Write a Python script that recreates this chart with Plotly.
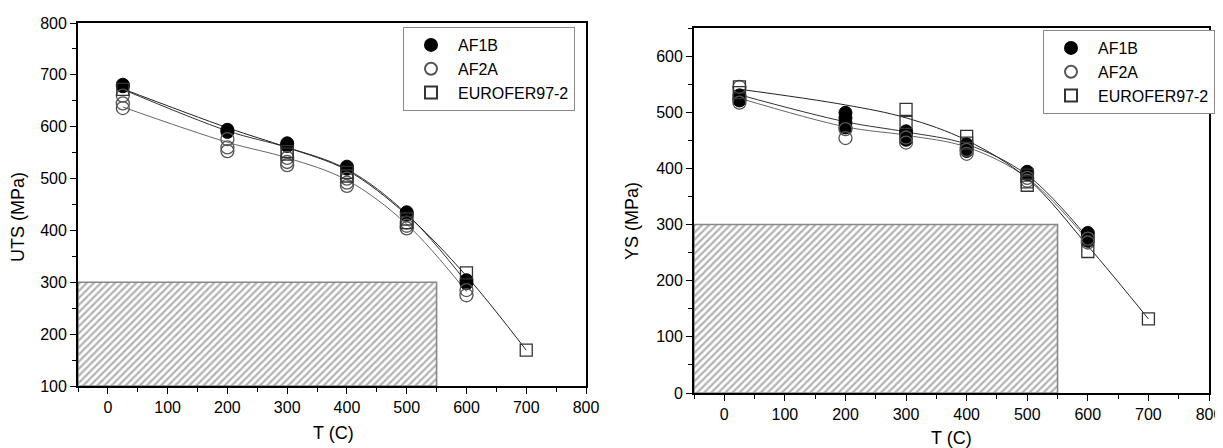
import plotly.graph_objects as go

# ---------------- data ----------------
# Left panel: UTS (MPa) vs T (C)
uts_af1b_t = [25, 25, 200, 200, 300, 300, 400, 400, 500, 500, 600, 600]
uts_af1b = [681, 678, 594, 590, 568, 563, 523, 519, 435, 430, 304, 298]
uts_af2a_t = [25, 25, 25, 200, 200, 200, 300, 300, 300, 400, 400, 400, 500, 500, 500, 600, 600]
uts_af2a = [660, 645, 636, 576, 560, 553, 540, 532, 526, 500, 492, 486, 415, 409, 404, 285, 275]
uts_eur_t = [25, 300, 300, 400, 400, 500, 500, 600, 700]
uts_eur = [672, 552, 547, 512, 505, 422, 415, 318, 169]

# fitted curves
fit_t6 = [25, 200, 300, 400, 500, 600]
fit_t7 = [25, 200, 300, 400, 500, 600, 700]
uts_fit_af1b = [672, 592, 560, 518, 432, 300]
uts_fit_af2a = [638, 570, 540, 497, 412, 282]
uts_fit_eur = [673, 598, 560, 516, 430, 312, 169]

# Right panel: YS (MPa) vs T (C)
ys_af1b_t = [25, 25, 25, 200, 200, 200, 200, 300, 300, 300, 400, 400, 400, 500, 500, 600, 600, 600]
ys_af1b = [530, 524, 521, 499, 490, 481, 473, 466, 459, 451, 443, 437, 431, 394, 390, 285, 278, 271]
ys_af2a_t = [25, 25, 200, 200, 300, 300, 400, 400, 500, 500, 600, 600]
ys_af2a = [545, 517, 470, 454, 455, 446, 433, 426, 383, 378, 275, 268]
ys_eur_t = [25, 25, 300, 300, 400, 400, 500, 500, 500, 600, 700]
ys_eur = [545, 535, 505, 482, 457, 445, 388, 376, 370, 252, 132]

ys_fit_af1b = [531, 483, 465, 443, 388, 276]
ys_fit_af2a = [525, 474, 459, 438, 383, 272]
ys_fit_eur = [541, 513, 490, 450, 382, 262, 132]

# hatched design window
region_t = [-50, 550]
uts_region = [100, 300]
ys_region = [0, 300]

series_names = ["AF1B", "AF2A", "EUROFER97-2"]

# ---------------- figure ----------------
# the page body adds an 8px margin, so the figure is 8px smaller and coordinates are shifted
OFF = 8
W, H = 1223 - OFF, 448 - OFF
fig = go.Figure()

FONT = "Liberation Sans, Arial, sans-serif"


def add_panel(xa, ya, legend, region_y, data, fits):
    # hatched rectangle
    fig.add_trace(go.Scatter(
        x=[region_t[0], region_t[1], region_t[1], region_t[0], region_t[0]],
        y=[region_y[0], region_y[0], region_y[1], region_y[1], region_y[0]],
        mode="lines", fill="toself",
        fillcolor="white",
        fillpattern=dict(shape="/", fgcolor="#666666", bgcolor="white",
                         size=5, solidity=0.45),
        line=dict(color="#888888", width=1.6),
        xaxis=xa, yaxis=ya, showlegend=False, hoverinfo="skip"))
    # fit curves
    for (ft, fv), col in zip(fits, ["#333333", "#666666", "#222222"]):
        fig.add_trace(go.Scatter(
            x=ft, y=fv, mode="lines", line=dict(color=col, width=1, shape="spline",
                                                smoothing=1.0),
            xaxis=xa, yaxis=ya, showlegend=False, hoverinfo="skip"))
    styles = [
        dict(symbol="circle", size=13, color="black", line=dict(color="black", width=1)),
        dict(symbol="circle-open", size=13, color="#555555", line=dict(width=1.3)),
        dict(symbol="square-open", size=12, color="#333333", line=dict(width=1.3)),
    ]
    for (t, v), name, st in zip(data, series_names, styles):
        fig.add_trace(go.Scatter(
            x=t, y=v, mode="markers", name=name, marker=st,
            xaxis=xa, yaxis=ya, legend=legend))


add_panel("x", "y", "legend", uts_region,
          [(uts_af1b_t, uts_af1b), (uts_af2a_t, uts_af2a), (uts_eur_t, uts_eur)],
          [(fit_t6, uts_fit_af1b), (fit_t6, uts_fit_af2a), (fit_t7, uts_fit_eur)])
add_panel("x2", "y2", "legend2", ys_region,
          [(ys_af1b_t, ys_af1b), (ys_af2a_t, ys_af2a), (ys_eur_t, ys_eur)],
          [(fit_t6, ys_fit_af1b), (fit_t6, ys_fit_af2a), (fit_t7, ys_fit_eur)])

axis_common = dict(
    showline=True, linecolor="black", linewidth=1.8, mirror=True,
    ticks="outside", ticklen=6, tickwidth=1.4, tickcolor="black",
    showgrid=False, zeroline=False, automargin=False,
    tickfont=dict(family=FONT, size=16, color="#000"),
    minor=dict(ticks="outside", ticklen=4, tickwidth=1.2, tickcolor="black",
               dtick=50, tick0=0, showgrid=False),
)


def px_x(a, b):
    return [(a - OFF) / W, (b - OFF) / W]


def px_y(top, bottom):
    return [(H - (bottom - OFF)) / H, (H - (top - OFF)) / H]


def pxx(a):
    return (a - OFF) / W


def pxy(b):
    return 1 - (b - OFF) / H


legend_style = dict(xanchor="left", yanchor="top",
                    bgcolor="white", bordercolor="#888", borderwidth=1,
                    font=dict(family=FONT, size=16, color="#000"),
                    tracegroupgap=0, itemwidth=44,
                    itemsizing="constant")

fig.update_layout(
    width=W, height=H,
    margin=dict(l=0, r=0, t=0, b=0),
    paper_bgcolor="white", plot_bgcolor="white",
    font=dict(family=FONT, color="#000"),
    xaxis=dict(domain=px_x(78, 586), range=[-50, 800], dtick=100, tick0=0,
               anchor="y", **axis_common),
    yaxis=dict(domain=px_y(23, 386), range=[100, 800], dtick=100, tick0=0,
               anchor="x", **axis_common),
    xaxis2=dict(domain=px_x(694, 1209), range=[-50, 800], dtick=100, tick0=0,
                anchor="y2", **axis_common),
    yaxis2=dict(domain=px_y(28, 393), range=[0, 650], dtick=100, tick0=0,
                anchor="x2", **axis_common),
    legend=dict(x=pxx(403), y=pxy(27), **legend_style),
    legend2=dict(x=pxx(1043), y=pxy(30), **legend_style),
    showlegend=True,
)

title_font = dict(family=FONT, size=18, color="#000")
fig.add_annotation(text="T (C)", xref="paper", yref="paper", x=pxx(333), y=pxy(433),
                   showarrow=False, font=title_font, xanchor="center", yanchor="middle")
fig.add_annotation(text="T (C)", xref="paper", yref="paper", x=pxx(952), y=pxy(438),
                   showarrow=False, font=title_font, xanchor="center", yanchor="middle")
fig.add_annotation(text="UTS (MPa)", xref="paper", yref="paper", x=pxx(18), y=pxy(217),
                   showarrow=False, font=title_font, textangle=-90,
                   xanchor="center", yanchor="middle")
fig.add_annotation(text="YS (MPa)", xref="paper", yref="paper", x=pxx(632), y=pxy(221),
                   showarrow=False, font=title_font, textangle=-90,
                   xanchor="center", yanchor="middle")

fig.write_html("out.html")
